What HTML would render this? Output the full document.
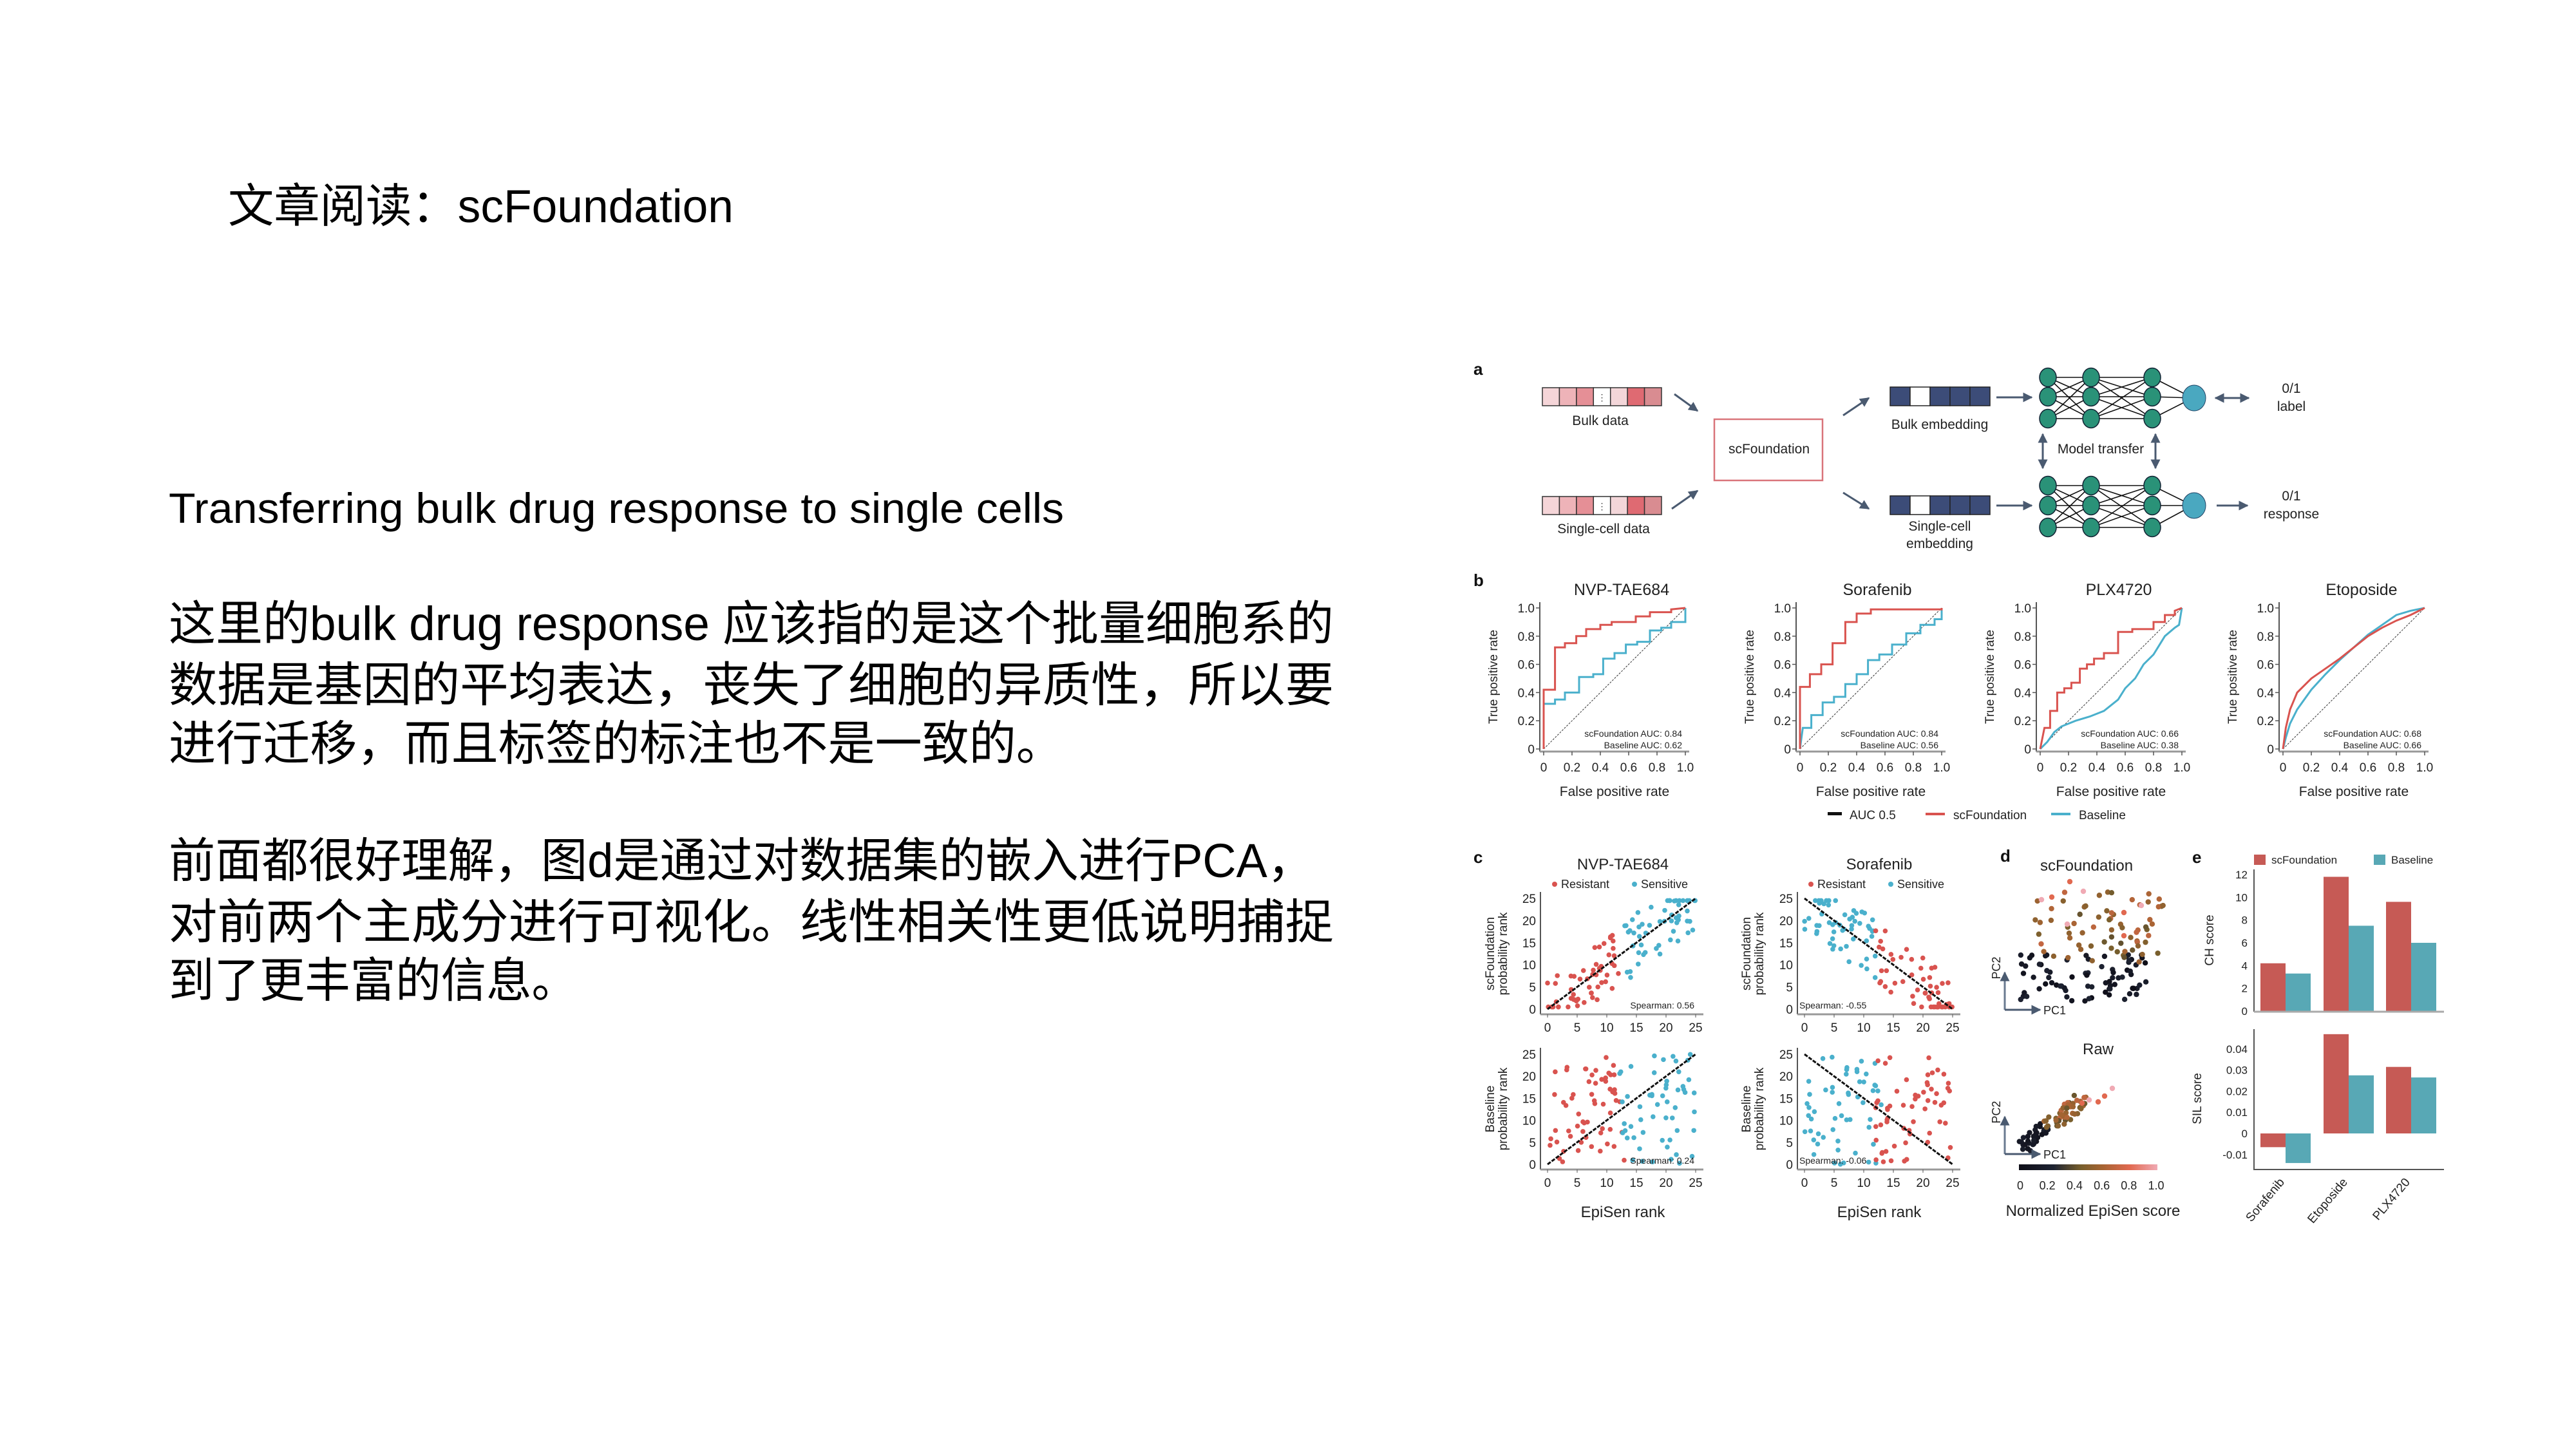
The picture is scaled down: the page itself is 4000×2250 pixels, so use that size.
<!DOCTYPE html>
<html><head><meta charset="utf-8">
<style>
html,body{margin:0;padding:0;background:#fff;}
svg{display:block;}
.cn{font-family:"Liberation Sans","Noto Sans CJK SC",sans-serif;fill:#000;}
.f{font-family:"Liberation Sans Narrow","Liberation Sans",sans-serif;fill:#222;}
</style></head>
<body>
<svg id="S" width="4000" height="2250" viewBox="0 0 4000 2250" xmlns="http://www.w3.org/2000/svg">
<rect width="4000" height="2250" fill="#fff"/>
<!-- left text -->
<text class="cn" x="354" y="345" font-size="72" textLength="785" lengthAdjust="spacingAndGlyphs">文章阅读：scFoundation</text>
<text class="cn" x="262" y="812" font-size="66" textLength="1390" lengthAdjust="spacingAndGlyphs">Transferring bulk drug response to single cells</text>
<text class="cn" x="262" y="994" font-size="74" textLength="1809" lengthAdjust="spacingAndGlyphs">这里的bulk drug response 应该指的是这个批量细胞系的</text>
<text class="cn" x="262" y="1089" font-size="74" textLength="1809" lengthAdjust="spacingAndGlyphs">数据是基因的平均表达，丧失了细胞的异质性，所以要</text>
<text class="cn" x="262" y="1180" font-size="74" textLength="1389" lengthAdjust="spacingAndGlyphs">进行迁移，而且标签的标注也不是一致的。</text>
<text class="cn" x="262" y="1362" font-size="74" textLength="1778" lengthAdjust="spacingAndGlyphs">前面都很好理解，图d是通过对数据集的嵌入进行PCA，</text>
<text class="cn" x="262" y="1457" font-size="74" textLength="1809" lengthAdjust="spacingAndGlyphs">对前两个主成分进行可视化。线性相关性更低说明捕捉</text>
<text class="cn" x="262" y="1548" font-size="74" textLength="634" lengthAdjust="spacingAndGlyphs">到了更丰富的信息。</text>

<defs>
<marker id="ah" viewBox="0 0 10 10" refX="9" refY="5" markerWidth="5" markerHeight="5" orient="auto-start-reverse"><path d="M0,0L10,5L0,10z" fill="#4a5a70"/></marker>
</defs>

<!-- panel labels -->
<g font-family="Liberation Sans" font-weight="bold" font-size="26" fill="#111">
<text x="2288" y="582">a</text><text x="2288" y="910">b</text><text x="2288" y="1340">c</text><text x="3106" y="1338">d</text><text x="3404" y="1340">e</text>
</g>

<!-- panel a -->
<g id="pa" stroke="#4a5a70" stroke-width="3" fill="none">
<line x1="2600" y1="612" x2="2636" y2="638" marker-end="url(#ah)"/>
<line x1="2596" y1="790" x2="2636" y2="762" marker-end="url(#ah)"/>
<line x1="2862" y1="645" x2="2902" y2="618" marker-end="url(#ah)"/>
<line x1="2862" y1="765" x2="2902" y2="790" marker-end="url(#ah)"/>
<line x1="3100" y1="617" x2="3155" y2="617" marker-end="url(#ah)"/>
<line x1="3100" y1="785" x2="3155" y2="785" marker-end="url(#ah)"/>
<line x1="3440" y1="618" x2="3492" y2="618" marker-start="url(#ah)" marker-end="url(#ah)"/>
<line x1="3442" y1="785" x2="3490" y2="785" marker-end="url(#ah)"/>
<line x1="3172" y1="674" x2="3172" y2="727" marker-start="url(#ah)" marker-end="url(#ah)"/>
<line x1="3347" y1="674" x2="3347" y2="727" marker-start="url(#ah)" marker-end="url(#ah)"/>
</g>
<rect x="2662" y="651" width="168" height="95" fill="#fff" stroke="#d9747a" stroke-width="2.5"/>
<g class="f" font-size="21" text-anchor="middle">
<text x="2747" y="704">scFoundation</text>
<text x="2485" y="660">Bulk data</text>
<text x="2490" y="828">Single-cell data</text>
<text x="3012" y="666">Bulk embedding</text>
<text x="3012" y="824">Single-cell</text>
<text x="3012" y="851">embedding</text>
<text x="3262" y="704">Model transfer</text>
<text x="3558" y="610">0/1</text><text x="3558" y="638">label</text>
<text x="3558" y="777">0/1</text><text x="3558" y="805">response</text>
</g>
<g id="bars"></g>
<g id="nn"></g>

<!-- panel b -->
<g id="pb"></g>
<g class="f" font-size="25" text-anchor="middle">
<text x="2518" y="924">NVP-TAE684</text><text x="2915" y="924">Sorafenib</text><text x="3290" y="924">PLX4720</text><text x="3667" y="924">Etoposide</text>
</g>
<g class="f" font-size="19">
<rect x="2838" y="1261" width="22" height="5" fill="#111"/><text x="2872" y="1272">AUC 0.5</text>
<rect x="2990" y="1262" width="30" height="4" fill="#d9534f"/><text x="3033" y="1272">scFoundation</text>
<rect x="3185" y="1262" width="30" height="4" fill="#4ab0cc"/><text x="3228" y="1272">Baseline</text>
</g>

<!-- panel c -->
<g id="pc"></g>
<g class="f" font-size="24" text-anchor="middle">
<text x="2520" y="1350">NVP-TAE684</text><text x="2918" y="1350">Sorafenib</text>
<text x="2520" y="1890">EpiSen rank</text><text x="2918" y="1890">EpiSen rank</text>
</g>
<g class="f" font-size="18">
<circle cx="2414" cy="1373" r="4" fill="#d9534f"/><text x="2424" y="1379">Resistant</text>
<circle cx="2538" cy="1373" r="4" fill="#4ab0cc"/><text x="2548" y="1379">Sensitive</text>
<circle cx="2812" cy="1373" r="4" fill="#d9534f"/><text x="2822" y="1379">Resistant</text>
<circle cx="2936" cy="1373" r="4" fill="#4ab0cc"/><text x="2946" y="1379">Sensitive</text>
</g>

<!-- panel d -->
<g id="pd"></g>
<g class="f" font-size="24" text-anchor="middle">
<text x="3240" y="1352">scFoundation</text><text x="3258" y="1637">Raw</text>
<text x="3250" y="1888">Normalized EpiSen score</text>
</g>

<!-- panel e -->
<g id="pe"></g>
</svg>

<script>
var S=document.getElementById('S');var NS='http://www.w3.org/2000/svg';
function el(p,t,a,txt){var e=document.createElementNS(NS,t);for(var k in a)e.setAttribute(k,a[k]);if(txt!==undefined)e.textContent=txt;document.getElementById(p).appendChild(e);return e;}
var RED='#d9534f',BLU='#4ab0cc';
var seed=7;function rnd(){seed=(seed*16807)%2147483647;return (seed-1)/2147483646;}
function txt(p,x,y,s,size,anchor,extra){var a={x:x,y:y,'font-size':size,'text-anchor':anchor||'middle','font-family':'Liberation Sans Narrow, Liberation Sans, sans-serif',fill:'#222'};for(var k in extra||{})a[k]=extra[k];return el(p,'text',a,s);}

// panel a bars
var reds=['#f5d5d8','#eeb3b8','#e58f96','#fff','#f3d6d9','#df6a72','#d98c91'];
function cellbar(x,y,cols){var w=185/7;for(var i=0;i<7;i++){el('bars','rect',{x:x+i*w,y:y,width:w,height:28,fill:cols[i],stroke:'#333','stroke-width':1.5});}
 el('bars','text',{x:x+3.5*w,y:y+20,'font-size':14,'text-anchor':'middle',fill:'#333'},'⋮');}
cellbar(2395,602,reds);cellbar(2395,771,reds);
function embbar(x,y){var w=31;var c=['#3c4c78','#fff','#3c4c78','#3c4c78','#3c4c78'];for(var i=0;i<5;i++)el('bars','rect',{x:x+i*w,y:y,width:w,height:29,fill:c[i],stroke:'#222','stroke-width':1.5});}
embbar(2935,601);embbar(2935,770);
// NN
function nn(rows,outY){var cols=[3180,3247,3342];var pts=cols.map(function(c){return rows.map(function(r){return [c,r];});});
 for(var l=0;l<2;l++)pts[l].forEach(function(a){pts[l+1].forEach(function(b){el('nn','line',{x1:a[0],y1:a[1],x2:b[0],y2:b[1],stroke:'#111','stroke-width':1.6});});});
 pts[2].forEach(function(a){el('nn','line',{x1:a[0],y1:a[1],x2:3405,y2:outY,stroke:'#111','stroke-width':1.6});});
 pts.forEach(function(c){c.forEach(function(p){el('nn','ellipse',{cx:p[0],cy:p[1],rx:13,ry:14.5,fill:'#2a9278',stroke:'#123','stroke-width':1.5});});});
 el('nn','ellipse',{cx:3407,cy:outY,rx:18,ry:20,fill:'#4aa8c0',stroke:'#246','stroke-width':1});}
nn([586,616,650],618);nn([754,785,819],785);

// panel b ROC
var roc=[
[2397,[[0,0],[0,.42],[.08,.42],[.08,.72],[.15,.72],[.15,.75],[.23,.75],[.23,.8],[.3,.8],[.3,.85],[.4,.85],[.4,.88],[.48,.88],[.48,.9],[.65,.9],[.65,.94],[.75,.94],[.75,.97],[.9,.97],[.9,.99],[1,1]],
 [[0,0],[0,.32],[.08,.32],[.08,.35],[.15,.35],[.15,.4],[.25,.4],[.25,.51],[.35,.51],[.35,.53],[.42,.53],[.42,.64],[.5,.64],[.5,.68],[.58,.68],[.58,.74],[.66,.74],[.66,.76],[.75,.76],[.75,.84],[.83,.84],[.83,.86],[.9,.86],[.9,.9],[1,.9],[1,1]],'0.84','0.62'],
[2795,[[0,0],[0,.44],[.07,.44],[.07,.53],[.15,.53],[.15,.6],[.23,.6],[.23,.75],[.32,.75],[.32,.9],[.4,.9],[.4,.96],[.5,.96],[.5,.99],[1,.99],[1,1]],
 [[0,0],[.02,.15],[.08,.15],[.08,.24],[.16,.24],[.16,.33],[.24,.33],[.24,.37],[.32,.37],[.32,.46],[.4,.46],[.4,.53],[.48,.53],[.48,.63],[.56,.63],[.56,.67],[.65,.67],[.65,.74],[.75,.74],[.75,.82],[.85,.82],[.85,.88],[.95,.88],[.95,.92],[1,.92],[1,1]],'0.84','0.56'],
[3168,[[0,0],[.03,.15],[.07,.15],[.07,.27],[.12,.27],[.12,.4],[.17,.4],[.17,.43],[.22,.43],[.22,.47],[.28,.47],[.28,.57],[.33,.57],[.33,.6],[.38,.6],[.38,.64],[.45,.64],[.45,.68],[.55,.68],[.55,.83],[.65,.83],[.65,.85],[.8,.85],[.8,.9],[.88,.9],[.88,.95],[.95,.95],[.95,.98],[1,1]],
 [[0,0],[.05,.05],[.1,.12],[.15,.16],[.25,.2],[.35,.23],[.45,.27],[.55,.35],[.6,.43],[.67,.5],[.73,.6],[.8,.67],[.88,.8],[.95,.86],[.98,.88],[1,1]],'0.66','0.38'],
[3545,[[0,0],[.02,.15],[.05,.28],[.1,.4],[.2,.5],[.3,.57],[.4,.64],[.5,.72],[.6,.8],[.7,.86],[.8,.91],[.9,.95],[1,1]],
 [[0,0],[.02,.08],[.05,.18],[.1,.28],[.2,.42],[.3,.53],[.4,.63],[.5,.72],[.6,.81],[.7,.88],[.8,.95],[.9,.98],[1,1]],'0.68','0.66']];
roc.forEach(function(r){var x0=r[0],W=220,y0=1163,H=219;
 function P(a){return a.map(function(p){return (x0+p[0]*W).toFixed(1)+','+(y0-p[1]*H).toFixed(1);}).join(' ');}
 el('pb','line',{x1:x0-6,y1:935,x2:x0-6,y2:1167,stroke:'#555','stroke-width':2});
 el('pb','line',{x1:x0-6,y1:1167,x2:x0+W+6,y2:1167,stroke:'#999','stroke-width':3});
 for(var i=0;i<=5;i++){var v=i/5;var lab=i==0?'0':(i==5?'1.0':v.toFixed(1));
  txt('pb',x0+v*W,1198,lab,19);el('pb','line',{x1:x0+v*W,y1:1167,x2:x0+v*W,y2:1173,stroke:'#555','stroke-width':1.5});
  txt('pb',x0-14,y0-v*H+7,lab,19,'end');el('pb','line',{x1:x0-12,y1:y0-v*H,x2:x0-6,y2:y0-v*H,stroke:'#555','stroke-width':1.5});}
 el('pb','line',{x1:x0,y1:y0,x2:x0+W,y2:y0-H,stroke:'#333','stroke-width':1,'stroke-dasharray':'3,2'});
 el('pb','polyline',{points:P(r[2]),fill:'none',stroke:BLU,'stroke-width':3});
 el('pb','polyline',{points:P(r[1]),fill:'none',stroke:RED,'stroke-width':3});
 txt('pb',x0+W-5,1144,'scFoundation AUC: '+r[3],14,'end');
 txt('pb',x0+W-5,1162,'Baseline AUC: '+r[4],14,'end');
 txt('pb',x0+W/2,1236,'False positive rate',21);
 txt('pb',x0-72,1051,'True positive rate',19,'middle',{transform:'rotate(-90 '+(x0-72)+' 1051)','font-family':'Liberation Sans, sans-serif'});
});

// panel c scatter
function scat(x0,y0,yTop,pos,spear,pts){var sx=230/25,sy=(y0-yTop)/25;
 el('pc','line',{x1:x0-11,y1:yTop-10,x2:x0-11,y2:y0+8,stroke:'#555','stroke-width':2});
 el('pc','line',{x1:x0-11,y1:y0+8,x2:x0+242,y2:y0+8,stroke:'#999','stroke-width':3});
 [0,5,10,15,20,25].forEach(function(v){txt('pc',x0+v*sx,y0+35,String(v),19);txt('pc',x0-18,y0-v*sy+7,String(v),19,'end');
  el('pc','line',{x1:x0+v*sx,y1:y0+8,x2:x0+v*sx,y2:y0+13,stroke:'#555'});});
 pts.forEach(function(p){el('pc','circle',{cx:x0+p[0]*sx,cy:y0-p[1]*sy,r:3.8,fill:p[2]});});
 if(pos)el('pc','line',{x1:x0,y1:y0,x2:x0+25*sx,y2:yTop,stroke:'#111','stroke-width':3,'stroke-dasharray':'6,2'});
 else el('pc','line',{x1:x0,y1:yTop,x2:x0+25*sx,y2:y0,stroke:'#111','stroke-width':3,'stroke-dasharray':'6,2'});
 txt('pc',pos?x0+228:x0-8,y0-1,'Spearman: '+spear,14,pos?'end':'start');}
function gen(n,xa,xb,ya,yb,col){var a=[];for(var i=0;i<n;i++)a.push([xa+rnd()*(xb-xa),ya+rnd()*(yb-ya),col]);return a;}
function corr(n,col,xa,xb,slope,noise,inv){var a=[];for(var i=0;i<n;i++){var x=xa+rnd()*(xb-xa);var y=(inv?25-x:x)*slope+(rnd()-.5)*noise;y=Math.max(0.5,Math.min(24.5,y));a.push([x,y,col]);}return a;}
scat(2403,1567,1395,true,'0.56',corr(55,RED,0,12,1,14).concat(corr(55,BLU,13,25,1,14)));
scat(2802,1567,1395,false,'-0.55',corr(55,BLU,0,12,1,14,true).concat(corr(55,RED,12,25,1,14,true)));
scat(2403,1808,1637,true,'0.24',gen(60,0,13,0,25,RED).concat(gen(55,12,25,0,25,BLU)));
scat(2802,1808,1637,false,'-0.06',gen(55,0,13,0,25,BLU).concat(gen(60,12,25,0,25,RED)));
[[2320,1481,'scFoundation','probability rank'],[2718,1481,'scFoundation','probability rank'],[2320,1722,'Baseline','probability rank'],[2718,1722,'Baseline','probability rank']].forEach(function(a){
 txt('pc',a[0],a[1],a[2],19,'middle',{transform:'rotate(-90 '+a[0]+' '+a[1]+')','font-family':'Liberation Sans, sans-serif'});
 txt('pc',a[0]+20,a[1],a[3],19,'middle',{transform:'rotate(-90 '+(a[0]+20)+' '+a[1]+')','font-family':'Liberation Sans, sans-serif'});});

// panel d
function cmap(t){var st=[[0,[15,15,25]],[0.25,[30,35,50]],[0.45,[120,95,45]],[0.6,[165,100,50]],[0.8,[225,105,80]],[1,[240,170,180]]];
 for(var i=1;i<st.length;i++)if(t<=st[i][0]){var a=st[i-1],b=st[i],f=(t-a[0])/(b[0]-a[0]);return 'rgb('+[0,1,2].map(function(k){return Math.round(a[1][k]+f*(b[1][k]-a[1][k]));}).join(',')+')';}return 'rgb(240,170,180)';}
for(var i=0;i<75;i++){var x=3135+rnd()*200,y=1480+rnd()*75;el('pd','circle',{cx:x,cy:y,r:4.2,fill:cmap(rnd()*0.25)});}
for(var i=0;i<70;i++){var x=3160+rnd()*200,y=1385+rnd()*110;el('pd','circle',{cx:x,cy:y,r:4.2,fill:cmap(0.4+rnd()*0.3)});}
[[3214,1369],[3170,1397],[3186,1393],[3325,1406],[3298,1417],[3210,1435],[3298,1453],[3235,1384]].forEach(function(p,i){el('pd','circle',{cx:p[0],cy:p[1],r:4.2,fill:cmap(0.8+0.2*(i%2))});});
for(var i=0;i<80;i++){var t=rnd();var x=3140+t*90+(rnd()-.5)*25,y=1780-t*70+(rnd()-.5)*22;el('pd','circle',{cx:x,cy:y,r:4.2,fill:cmap(t<0.45?0.05+rnd()*0.15:0.4+rnd()*0.3)});}
[[3268,1702],[3280,1690],[3233,1713],[3244,1708],[3258,1711]].forEach(function(p,i){el('pd','circle',{cx:p[0],cy:p[1],r:4.2,fill:cmap(0.8+0.2*(i%2))});});
function pcax(y){el('pd','line',{x1:3113,y1:y,x2:3113,y2:y-58,stroke:'#6a7a90','stroke-width':3,'marker-end':'url(#ah)'});
 el('pd','line',{x1:3113,y1:y,x2:3168,y2:y,stroke:'#4a5a70','stroke-width':3,'marker-end':'url(#ah)'});
 txt('pd',3173,y+7,'PC1',18,'start');txt('pd',3106,y-65,'PC2',18,'middle',{transform:'rotate(-90 3106 '+(y-65)+')'});}
pcax(1568);pcax(1792);
var g=el('pd','linearGradient',{id:'cg'});[0,.25,.45,.6,.8,1].forEach(function(o){var s=document.createElementNS(NS,'stop');s.setAttribute('offset',o);s.setAttribute('stop-color',cmap(o));g.appendChild(s);});
el('pd','rect',{x:3135,y:1808,width:215,height:9,fill:'url(#cg)'});
[0,.2,.4,.6,.8,1].forEach(function(v){txt('pd',3137+v*211,1847,v==0?'0':(v==1?'1.0':v.toFixed(1)),18);});

// panel e
var TE='#58a8b5',RE='#c65a55';
el('pe','rect',{x:3500,y:1327,width:18,height:16,fill:RE});txt('pe',3527,1341,'scFoundation',17,'start');
el('pe','rect',{x:3686,y:1327,width:18,height:16,fill:TE});txt('pe',3713,1341,'Baseline',17,'start');
var gx=[3510,3608,3705],bw=39;
// CH
var chy0=1570,chu=17.67;[[4.2,3.3],[11.8,7.5],[9.6,6.0]].forEach(function(v,i){
 el('pe','rect',{x:gx[i],y:chy0-v[0]*chu,width:bw,height:v[0]*chu,fill:RE});el('pe','rect',{x:gx[i]+bw,y:chy0-v[1]*chu,width:bw,height:v[1]*chu,fill:TE});});
el('pe','line',{x1:3500,y1:1350,x2:3500,y2:1571,stroke:'#555','stroke-width':2});
el('pe','line',{x1:3500,y1:1571,x2:3795,y2:1571,stroke:'#aaa','stroke-width':3});
[0,2,4,6,8,10,12].forEach(function(v){txt('pe',3490,chy0-v*chu+6,String(v),17,'end');});
txt('pe',3437,1460,'CH score',19,'middle',{transform:'rotate(-90 3437 1460)','font-family':'Liberation Sans, sans-serif'});
// SIL
var sy0=1760,su=32.8;[[-0.65,-1.4],[4.7,2.75],[3.15,2.65]].forEach(function(v,i){
 [[v[0],RE,0],[v[1],TE,bw]].forEach(function(b){var h=Math.abs(b[0])*su;el('pe','rect',{x:gx[i]+b[2],y:b[0]>0?sy0-h:sy0,width:bw,height:h,fill:b[1]});});});
el('pe','line',{x1:3500,y1:1598,x2:3500,y2:1817,stroke:'#555','stroke-width':2});
el('pe','line',{x1:3500,y1:1816,x2:3795,y2:1816,stroke:'#555','stroke-width':2});
[[0.04,4],[0.03,3],[0.02,2],[0.01,1],['0',0],[-0.01,-1]].forEach(function(a){txt('pe',3490,sy0-a[1]*su+6,String(a[0]),17,'end');});
txt('pe',3418,1706,'SIL score',19,'middle',{transform:'rotate(-90 3418 1706)','font-family':'Liberation Sans, sans-serif'});
[['Sorafenib',3548],['Etoposide',3646],['PLX4720',3743]].forEach(function(a){txt('pe',a[1],1836,a[0],19,'end',{transform:'rotate(-50 '+a[1]+' 1836)'});});
</script>
</body></html>
